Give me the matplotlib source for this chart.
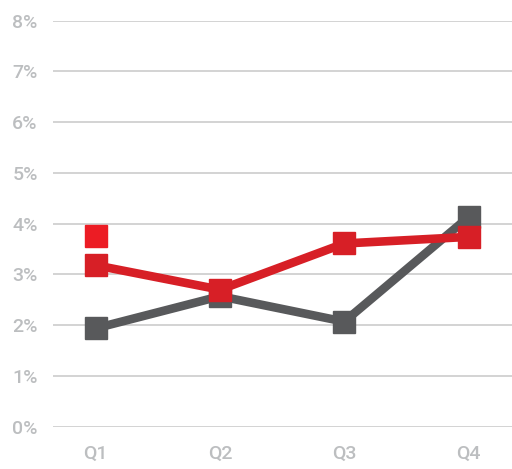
import matplotlib
matplotlib.use('Agg')
import matplotlib.pyplot as plt

quarters = ['Q1', 'Q2', 'Q3', 'Q4']
gray_vals = [1.94, 2.57, 2.07, 4.13]
red_vals = [3.18, 2.70, 3.61, 3.74]
extra_q = ['Q1']
extra_vals = [3.76]
yticks = [0, 1, 2, 3, 4, 5, 6, 7, 8]

plt.rcParams['font.family'] = ['Roboto', 'DejaVu Sans']

fig = plt.figure(figsize=(5.12, 4.69), dpi=100)
ax = fig.add_axes([0.1035, 0.0902, 0.8965, 0.8657])

x = list(range(len(quarters)))
ax.plot(x, gray_vals, color='#58595b', lw=6.2, marker='s', ms=15.5, zorder=3)
ax.plot(x, red_vals, color='#d71f26', lw=6.2, marker='s', ms=15.5, zorder=4)
ax.plot([quarters.index(q) for q in extra_q], extra_vals, ls='none',
        color='#ec1c24', marker='s', ms=15.5, zorder=5)

ax.set_xlim(-0.345, 3.35)
ax.set_ylim(0, 8)
ax.set_yticks(yticks)
ax.set_yticklabels([f'{v}%' for v in yticks])
ax.set_xticks(x)
ax.set_xticklabels(quarters)
ax.grid(axis='y', color='#c8c8c8', lw=1.1)
ax.set_axisbelow(True)
for s in ax.spines.values():
    s.set_visible(False)
ax.tick_params(length=0, labelsize=14, colors='#bcbec0')
ax.tick_params(axis='y', pad=11)
ax.tick_params(axis='x', pad=13)
for lbl in ax.get_xticklabels() + ax.get_yticklabels():
    lbl.set_fontweight('medium')

fig.savefig('out.png', dpi=100)
